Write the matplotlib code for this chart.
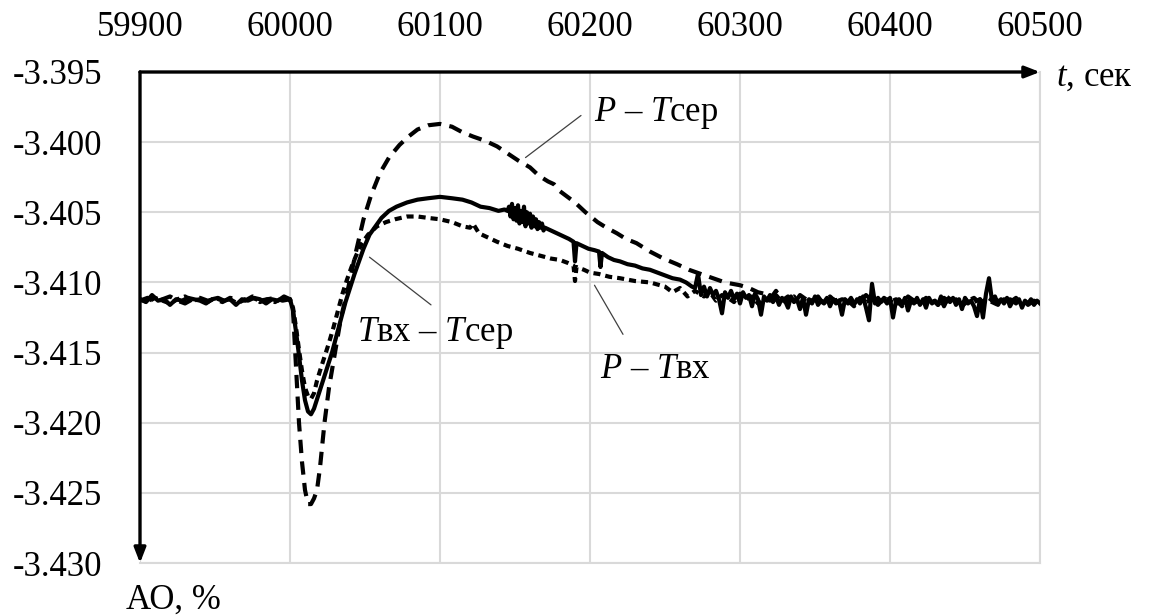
import numpy as np
import matplotlib
matplotlib.use("Agg")
from matplotlib import pyplot as plt

plt.rcParams['font.family'] = ['Liberation Serif', 'DejaVu Serif']
plt.rcParams['mathtext.fontset'] = 'custom'
plt.rcParams['mathtext.it'] = 'Liberation Serif:italic'
plt.rcParams['mathtext.rm'] = 'Liberation Serif'
plt.rcParams['axes.unicode_minus'] = False

# ---- data ----
x_ticks = [59900, 60000, 60100, 60200, 60300, 60400, 60500]
y_ticks = [-3.395, -3.400, -3.405, -3.410, -3.415, -3.420, -3.425, -3.430]

# Tвх – Tсер (solid)
solid_t = (list(range(59900, 60001, 4))
           + [60002, 60004, 60006, 60008, 60010, 60012, 60014, 60016, 60019, 60022,
              60025, 60028, 60031, 60034, 60037, 60040, 60043, 60046, 60049, 60053,
              60057, 60061, 60066, 60071, 60078, 60085, 60092, 60100, 60108, 60115,
              60121, 60127, 60133, 60139, 60143]
           + list(range(60145, 60171))
           + [60174, 60178, 60182, 60186, 60189, 60190, 60191, 60195, 60199, 60203,
              60206, 60207, 60208, 60212, 60216, 60220, 60225, 60230, 60235, 60240,
              60245, 60250, 60255, 60260, 60264, 60268]
           + list(range(60270, 60501, 2)))
solid_v = ([-3.4112, -3.4114, -3.4109, -3.4113, -3.4112, -3.4116, -3.4112, -3.4113, -3.4111, -3.4112,
            -3.4113, -3.4115, -3.4112, -3.4111, -3.4113, -3.4112, -3.4116, -3.4112, -3.4113, -3.4111,
            -3.4112, -3.4115, -3.4112, -3.4113, -3.4110, -3.4112]
           + [-3.4120, -3.4135, -3.4152, -3.4170, -3.4184, -3.4192, -3.4194, -3.4190, -3.4180, -3.4170,
              -3.4160, -3.4150, -3.4138, -3.4126, -3.4114, -3.4104, -3.4094, -3.4085, -3.4076, -3.4066,
              -3.4060, -3.4054, -3.4049, -3.4046, -3.4043, -3.4041, -3.4040, -3.4039, -3.4040, -3.4041,
              -3.4043, -3.4046, -3.4047, -3.4049, -3.4048]
           + [-3.4049, -3.4046, -3.4053, -3.4044, -3.4055, -3.4047, -3.4056, -3.4045, -3.4058, -3.4049,
              -3.4057, -3.4046, -3.4060, -3.4050, -3.4058, -3.4051, -3.4061, -3.4053, -3.4060, -3.4055,
              -3.4062, -3.4057, -3.4061, -3.4058, -3.4063, -3.4061]
           + [-3.4063, -3.4065, -3.4067, -3.4069, -3.4071, -3.4085, -3.4072, -3.4074, -3.4076, -3.4077,
              -3.4078, -3.4089, -3.4079, -3.4082, -3.4084, -3.4085, -3.4087, -3.4088, -3.4090, -3.4091,
              -3.4093, -3.4095, -3.4097, -3.4098, -3.4100, -3.4103]
           + [-3.4104, -3.4094, -3.4109, -3.4103, -3.4110, -3.4104, -3.4109, -3.4106, -3.4112, -3.4122,
              -3.4107, -3.4111, -3.4106, -3.4112, -3.4108, -3.4115, -3.4107, -3.4111, -3.4109, -3.4117,
              -3.4108, -3.4112, -3.4123, -3.4110, -3.4113, -3.4109, -3.4114, -3.4110, -3.4116, -3.4111,
              -3.4113, -3.4118, -3.4110, -3.4114, -3.4112, -3.4119, -3.4111, -3.4123, -3.4112, -3.4115,
              -3.4110, -3.4116, -3.4113, -3.4114, -3.4111, -3.4117, -3.4112, -3.4115, -3.4113, -3.4123,
              -3.4112, -3.4114, -3.4111, -3.4116, -3.4112, -3.4115, -3.4110, -3.4118, -3.4127, -3.4101,
              -3.4115, -3.4111, -3.4114, -3.4112, -3.4115, -3.4111, -3.4125, -3.4113, -3.4112, -3.4116,
              -3.4111, -3.4120, -3.4113, -3.4115, -3.4111, -3.4116, -3.4112, -3.4118, -3.4111, -3.4115,
              -3.4113, -3.4116, -3.4110, -3.4117, -3.4112, -3.4114, -3.4111, -3.4116, -3.4112, -3.4119,
              -3.4111, -3.4115, -3.4113, -3.4117, -3.4124, -3.4112, -3.4125, -3.4108, -3.4097, -3.4113,
              -3.4110, -3.4116, -3.4112, -3.4115, -3.4111, -3.4117, -3.4113, -3.4115, -3.4112, -3.4118,
              -3.4113, -3.4115, -3.4112, -3.4116, -3.4113, -3.4115])

# P – Tсер (long dashes)
pts_t = (list(range(59900, 60001, 5))
         + [60002, 60004, 60006, 60008, 60010, 60012, 60014, 60016, 60018, 60020,
            60023, 60026, 60030, 60034, 60039, 60044, 60049, 60054, 60060, 60066,
            60073, 60079, 60085, 60092, 60100, 60108, 60115, 60122, 60130, 60138,
            60145, 60152, 60160, 60166, 60172, 60176, 60180, 60185, 60190, 60197,
            60205, 60211, 60218, 60224, 60231, 60240, 60249, 60258, 60266, 60274,
            60282, 60290, 60300, 60306, 60312]
         + list(range(60316, 60501, 4)))
pts_v = ([-3.4113, -3.4111, -3.4114, -3.4112, -3.4110, -3.4113, -3.4115, -3.4112, -3.4111, -3.4113,
          -3.4112, -3.4114, -3.4111, -3.4112, -3.4113, -3.4110, -3.4114, -3.4112, -3.4111, -3.4113,
          -3.4112]
         + [-3.4120, -3.4160, -3.4200, -3.4228, -3.4248, -3.4258, -3.4258, -3.4254, -3.4248, -3.4232,
            -3.4200, -3.4175, -3.4150, -3.4125, -3.4103, -3.4078, -3.4055, -3.4038, -3.4022, -3.4011,
            -3.4002, -3.3996, -3.3991, -3.3988, -3.3987, -3.3989, -3.3993, -3.3996, -3.3999, -3.4003,
            -3.4008, -3.4013, -3.4018, -3.4024, -3.4028, -3.4030, -3.4035, -3.4039, -3.4043, -3.4050,
            -3.4057, -3.4061, -3.4065, -3.4069, -3.4072, -3.4078, -3.4083, -3.4087, -3.4091, -3.4094,
            -3.4097, -3.4100, -3.4102, -3.4104, -3.4107]
         + [-3.4108, -3.4112, -3.4106, -3.4113, -3.4110, -3.4115, -3.4109, -3.4112, -3.4114, -3.4110,
            -3.4116, -3.4111, -3.4113, -3.4110, -3.4115, -3.4112, -3.4114, -3.4109, -3.4113, -3.4116,
            -3.4111, -3.4114, -3.4112, -3.4117, -3.4110, -3.4113, -3.4115, -3.4111, -3.4114, -3.4112,
            -3.4116, -3.4110, -3.4113, -3.4115, -3.4111, -3.4114, -3.4112, -3.4117, -3.4111, -3.4113,
            -3.4115, -3.4112, -3.4114, -3.4111, -3.4116, -3.4113, -3.4115])

# P – Tвх (short dashes)
ptin_t = (list(range(59900, 60001, 5))
          + [60002, 60004, 60006, 60008, 60010, 60012, 60014, 60016, 60018, 60020,
             60023, 60026, 60029, 60032, 60035, 60038, 60041, 60044, 60048, 60052,
             60058, 60064, 60070, 60078, 60085, 60092, 60100, 60108, 60115, 60120,
             60122, 60126, 60132, 60138, 60145, 60152, 60160, 60167, 60174, 60180,
             60185, 60189, 60190, 60191, 60196, 60200, 60206, 60213, 60220, 60230,
             60240, 60250, 60255, 60260, 60265, 60270]
          + list(range(60276, 60501, 4)))
ptin_v = ([-3.4112, -3.4114, -3.4111, -3.4113, -3.4115, -3.4112, -3.4110, -3.4113, -3.4112, -3.4114,
           -3.4111, -3.4113, -3.4112, -3.4115, -3.4112, -3.4111, -3.4113, -3.4112, -3.4114, -3.4111,
           -3.4112]
          + [-3.4118, -3.4132, -3.4148, -3.4163, -3.4175, -3.4181, -3.4183, -3.4179, -3.4170, -3.4163,
             -3.4153, -3.4143, -3.4132, -3.4120, -3.4108, -3.4098, -3.4089, -3.4081, -3.4072, -3.4066,
             -3.4060, -3.4057, -3.4055, -3.4053, -3.4053, -3.4054, -3.4055, -3.4057, -3.4060, -3.4061,
             -3.4058, -3.4065, -3.4068, -3.4071, -3.4074, -3.4076, -3.4079, -3.4081, -3.4083, -3.4084,
             -3.4086, -3.4088, -3.4099, -3.4089, -3.4091, -3.4093, -3.4094, -3.4096, -3.4097, -3.4099,
             -3.4100, -3.4103, -3.4107, -3.4104, -3.4110, -3.4106]
          + [-3.4110, -3.4107, -3.4113, -3.4109, -3.4111, -3.4114, -3.4108, -3.4112, -3.4110, -3.4115,
             -3.4111, -3.4113, -3.4109, -3.4114, -3.4112, -3.4110, -3.4116, -3.4111, -3.4113, -3.4112,
             -3.4115, -3.4110, -3.4114, -3.4112, -3.4113, -3.4117, -3.4111, -3.4114, -3.4112, -3.4115,
             -3.4111, -3.4113, -3.4116, -3.4112, -3.4114, -3.4110, -3.4115, -3.4113, -3.4112, -3.4116,
             -3.4111, -3.4114, -3.4112, -3.4117, -3.4113, -3.4111, -3.4115, -3.4112, -3.4114, -3.4116,
             -3.4112, -3.4114, -3.4111, -3.4116, -3.4113, -3.4115, -3.4112])

grid_col = '#d9d9d9'
fs = 25

fig = plt.figure(figsize=(11.51, 6.16), dpi=100)
ax = fig.add_axes([140 / 1151, 1 - 563 / 616, 900 / 1151, 491 / 616])

ax.plot(pts_t, pts_v, color='black', lw=3.0, dashes=(3.2, 2.0), zorder=3)
ax.plot(ptin_t, ptin_v, color='black', lw=3.0, dashes=(1.7, 1.2), zorder=3)
ax.plot(solid_t, solid_v, color='black', lw=3.0, zorder=4)

ax.set_xlim(59900, 60500)
ax.set_ylim(-3.430, -3.395)
ax.set_xticks(x_ticks)
ax.set_yticks(y_ticks)
ax.set_xticklabels([str(v) for v in x_ticks])
ax.set_yticklabels(['%.3f' % v for v in y_ticks])
ax.grid(True, color=grid_col, lw=1.5, zorder=0)
ax.tick_params(axis='x', top=True, labeltop=True, bottom=False, labelbottom=False,
               length=0, pad=20, labelsize=fs)
ax.tick_params(axis='y', length=0, pad=27, labelsize=fs)
for s in ['top', 'left']:
    ax.spines[s].set_visible(False)
for s in ['bottom', 'right']:
    ax.spines[s].set_color(grid_col)
    ax.spines[s].set_linewidth(1.5)

# axis arrows
arrow = dict(arrowstyle='-|>,head_length=0.9,head_width=0.35', lw=2.4, color='black',
             shrinkA=0, shrinkB=0)
ax.annotate('', xy=(1, 1), xytext=(0, 1), xycoords='axes fraction', arrowprops=arrow,
            annotation_clip=False, zorder=6)
ax.annotate('', xy=(0, 0), xytext=(0, 1), xycoords='axes fraction', arrowprops=arrow,
            annotation_clip=False, zorder=6)

fig.text(1056 / 1151, 1 - 77 / 616, r'$t$, сек', fontsize=fs, va='center', ha='left')
fig.text(126 / 1151, 1 - 600 / 616, 'АО, %', fontsize=fs, va='center', ha='left')

# curve labels with leader lines
lead = dict(arrowstyle='-', lw=0.9, color='#404040', shrinkA=0, shrinkB=0)
ax.annotate('', xy=(60157, -3.4011), xytext=(60194, -3.3981), arrowprops=lead)
ax.text(60203, -3.3979, r'$P$ – $T$сер', fontsize=fs, va='center', ha='left')
ax.annotate('', xy=(60053, -3.4082), xytext=(60094, -3.4116), arrowprops=lead)
ax.text(60045, -3.4136, r'$T$вх – $T$сер', fontsize=fs, va='center', ha='left')
ax.annotate('', xy=(60203, -3.4102), xytext=(60222, -3.4137), arrowprops=lead)
ax.text(60207, -3.4162, r'$P$ – $T$вх', fontsize=fs, va='center', ha='left')

fig.savefig('out.png', dpi=100)
